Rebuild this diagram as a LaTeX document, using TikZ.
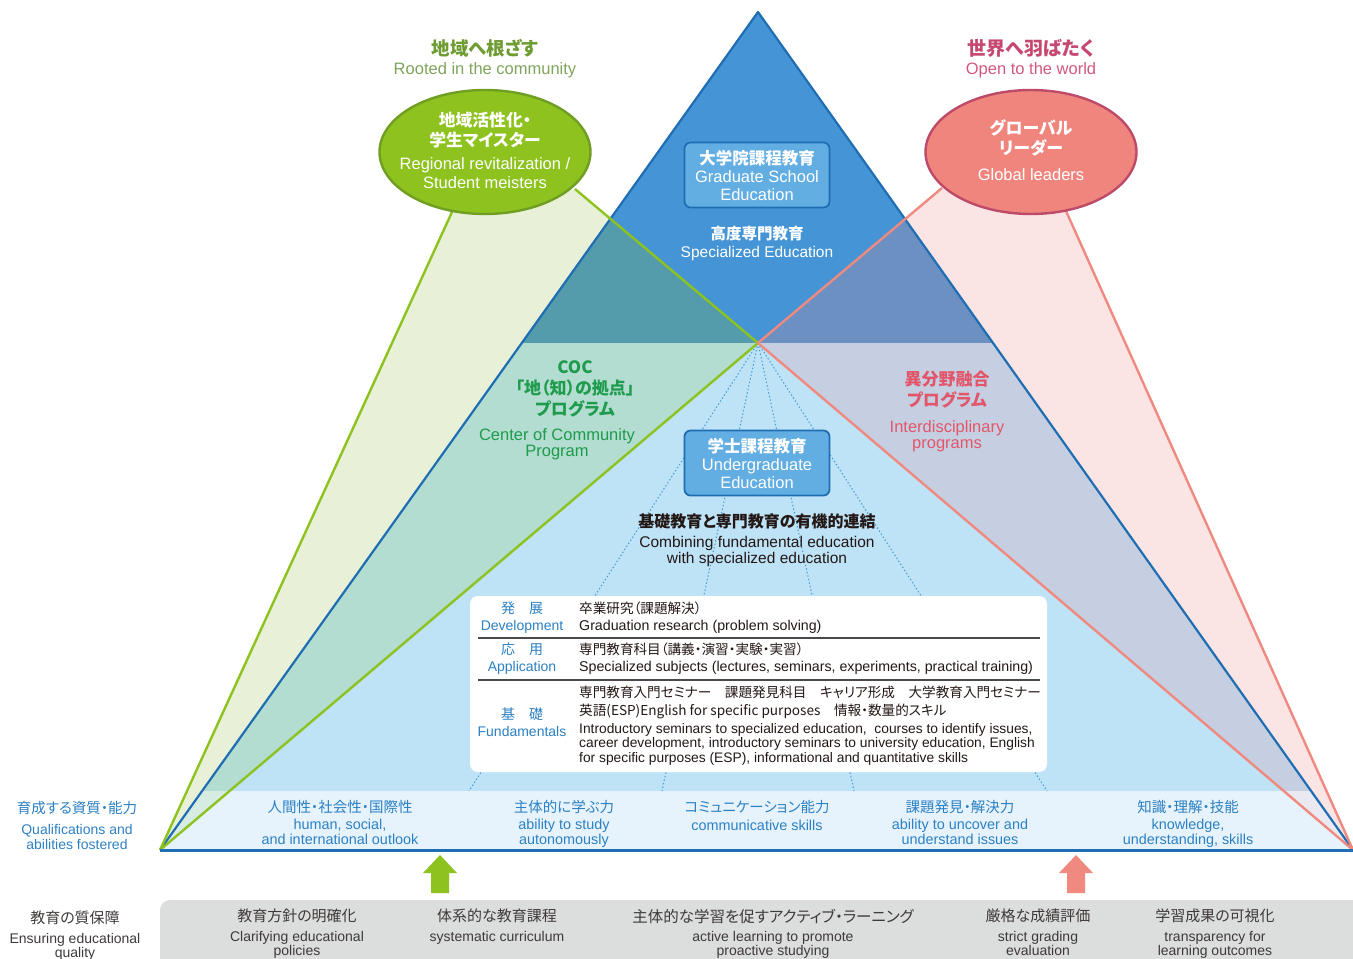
\documentclass[tikz,border=0pt]{standalone}
\usepackage{fontspec}
\setmainfont{Liberation Sans}
\newfontfamily\jp[RawFeature=+palt]{Noto Sans CJK JP}
\usetikzlibrary{shapes.geometric}

\definecolor{topBlue}{HTML}{4595D6}
\definecolor{edgeBlue}{HTML}{1F6DB3}
\definecolor{lowBlue}{HTML}{BEE2F6}
\definecolor{bandBlue}{HTML}{E6F3FC}
\definecolor{grnFill}{HTML}{E8F1D7}
\definecolor{grnLine}{HTML}{8DC21F}
\definecolor{grnBord}{HTML}{6F9E22}
\definecolor{grnTeal}{HTML}{549CAC}
\definecolor{grnMint}{HTML}{B2DDD0}
\definecolor{grnPale}{HTML}{D6ECE3}
\definecolor{pnkFill}{HTML}{FBE5E4}
\definecolor{pnkLine}{HTML}{F08A80}
\definecolor{pnkEll}{HTML}{EF857D}
\definecolor{pnkBord}{HTML}{BE4A6A}
\definecolor{pnkSlate}{HTML}{6B90C1}
\definecolor{pnkLav}{HTML}{C6CFE1}
\definecolor{pnkPale}{HTML}{EAE9F1}
\definecolor{boxBlue}{HTML}{62AEE3}
\definecolor{dotBlue}{HTML}{3E9BDA}
\definecolor{txtBlue}{HTML}{2C80C4}
\definecolor{cocGreen}{HTML}{1E9B4C}
\definecolor{ifRed}{HTML}{E2566B}
\definecolor{rootGrn}{HTML}{6E9B32}
\definecolor{rootGrnLt}{HTML}{7FA45A}
\definecolor{rasp}{HTML}{C64870}
\definecolor{raspLt}{HTML}{D2587D}
\definecolor{qaGray}{HTML}{DCDDDD}
\definecolor{txtDark}{HTML}{231815}
\definecolor{txtGray}{HTML}{3E3A39}
\definecolor{ruleGray}{HTML}{4A4A4A}

\newcommand\fz[2]{\fontsize{#1}{#2}\selectfont}

\tikzset{uparrow/.pic={\fill (0,0) -- (17,18) -- (9,18) -- (9,38) -- (-9,38) -- (-9,18) -- (-17,18) -- cycle;}}

\begin{document}
\begin{tikzpicture}[x=1pt,y=-1pt,
    txt/.style={inner sep=0pt,align=center},
    edubox/.style={draw=edgeBlue,line width=1.8pt,fill=boxBlue,rounded corners=6pt,minimum width=145pt,minimum height=65pt,inner sep=0pt},
    oval/.style={ellipse,line width=2.4pt,minimum width=211pt,minimum height=124pt,inner sep=0pt},
    fan/.style={line width=2.4pt},
    dotray/.style={dotBlue,line width=1pt,dash pattern=on 1.4pt off 2.2pt},
    skill/.style={txt,text=txtBlue},
    qa/.style={txt,text=txtGray},
    rowhead/.style={txt,text=txtBlue,font=\fz{14}{17}},
    rowbody/.style={inner sep=0pt,align=left,anchor=west,text=txtDark}]
\useasboundingbox (0,0) rectangle (1353,959);
\clip (0,0) rectangle (1353,959);

% corners of the triangle and of the two fans
\coordinate (apex) at (758,12);
\coordinate (bl) at (160,850);
\coordinate (br) at (1353,850);
\coordinate (mid) at (758,343);
\coordinate (ml) at (522,343);
\coordinate (mr) at (993,343);
\coordinate (bandl) at (203,791);
\coordinate (bandr) at (1310,791);
\coordinate (gl) at (452,212);
\coordinate (gr) at (575,189);
\coordinate (pl) at (942,188);
\coordinate (pr) at (1066,211);
\coordinate (d1) at (469,791);
\coordinate (d2) at (662,791);
\coordinate (d3) at (854,791);
\coordinate (d4) at (1047,791);

% pale fans
\fill[grnFill] (bl) -- (gl) -- (gr) -- (mid) -- cycle;
\fill[pnkFill] (br) -- (pr) -- (pl) -- (mid) -- cycle;

% triangle body
\fill[lowBlue] (apex) -- (bl) -- (br) -- cycle;
\fill[bandBlue] (bandl) -- (bl) -- (br) -- (bandr) -- cycle;
\fill[topBlue] (apex) -- (ml) -- (mr) -- cycle;

% where the fans cross the triangle
\begin{scope}
  \clip (bl) -- (gl) -- (gr) -- (mid) -- cycle;
  \fill[grnTeal] (apex) -- (ml) -- (mr) -- cycle;
  \fill[grnMint] (ml) -- (bandl) -- (bandr) -- (mr) -- cycle;
  \fill[grnPale] (bandl) -- (bl) -- (br) -- (bandr) -- cycle;
\end{scope}
\begin{scope}
  \clip (br) -- (pr) -- (pl) -- (mid) -- cycle;
  \fill[pnkSlate] (apex) -- (ml) -- (mr) -- cycle;
  \fill[pnkLav] (ml) -- (bandl) -- (bandr) -- (mr) -- cycle;
  \fill[pnkPale] (bandl) -- (bl) -- (br) -- (bandr) -- cycle;
\end{scope}

% dotted rays
\draw[dotray] (mid) -- (d1);
\draw[dotray] (mid) -- (d2);
\draw[dotray] (mid) -- (d3);
\draw[dotray] (mid) -- (d4);

% curriculum table
\node[fill=white,rounded corners=8pt,minimum width=577pt,minimum height=176pt,inner sep=0pt] (tbl) at (758.5,684) {};
\draw[ruleGray,line width=1.2pt] (478,638) -- (1040,638);
\draw[ruleGray,line width=1.2pt] (478,680) -- (1040,680);

% outlines
\draw[edgeBlue,line width=2.2pt,line join=round] (bl) -- (apex) -- (br);
\draw[fan,grnLine] (bl) -- (gl);
\draw[fan,grnLine,line join=round] (gr) -- (mid) -- (bl);
\draw[fan,pnkLine] (br) -- (pr);
\draw[fan,pnkLine,line join=round] (pl) -- (mid) -- (br);
\draw[edgeBlue,line width=3pt] (bl) -- (br);

% ovals and boxes
\node[oval,fill=grnLine,draw=grnBord] (regOval) at (485,152) {};
\node[oval,fill=pnkEll,draw=pnkBord] (globOval) at (1031,152) {};
\node[edubox] (gradBox) at (757,175) {};
\node[edubox] (ugBox) at (757,463) {};

% headings
\node[txt,text=rootGrn,font=\jp\bfseries\fz{18.5}{20}] (rootJp) at (485,48) {地域へ根ざす};
\node[txt,text=rootGrnLt,font=\fz{16.5}{19}] (rootEn) at (485,70) {Rooted in the community};
\node[txt,text=rasp,font=\jp\bfseries\fz{19}{20}] (worldJp) at (1031,48) {世界へ羽ばたく};
\node[txt,text=raspLt,font=\fz{16.5}{19}] (worldEn) at (1031,70) {Open to the world};

\node[txt,text=white,font=\jp\bfseries\fz{16.8}{20}] (regJp) at (485,130) {地域活性化・\\学生マイスター};
\node[txt,text=white,font=\fz{16.5}{19}] (regEn) at (485,173.5) {Regional revitalization /\\Student meisters};
\node[txt,text=white,font=\jp\bfseries\fz{17}{20}] (globJp) at (1031,138) {グローバル\\リーダー};
\node[txt,text=white,font=\fz{16.5}{19}] (globEn) at (1031,175) {Global leaders};

\node[txt,text=white,font=\jp\bfseries\fz{16.5}{20}] (gradJp) at (757,158) {大学院課程教育};
\node[txt,text=white,font=\fz{16.5}{18}] (gradEn) at (757,185.5) {Graduate School\\Education};
\node[txt,text=white,font=\jp\bfseries\fz{15.5}{19}] (specJp) at (757,234) {高度専門教育};
\node[txt,text=white,font=\fz{15.5}{19}] (specEn) at (757,253) {Specialized Education};

\node[txt,text=cocGreen,font=\jp\bfseries\fz{17}{21}] (cocJp) at (575,389) {COC\\「地（知）の拠点」\\プログラム};
\node[txt,text=cocGreen,font=\fz{16.5}{16}] (cocEn) at (557,444) {Center of Community\\Program};
\node[txt,text=ifRed,font=\jp\bfseries\fz{17}{21}] (ifJp) at (947,389.5) {異分野融合\\プログラム};
\node[txt,text=ifRed,font=\fz{16.5}{16}] (ifEn) at (947,436) {Interdisciplinary\\programs};

\node[txt,text=white,font=\jp\bfseries\fz{16.5}{20}] (ugJp) at (757,446) {学士課程教育};
\node[txt,text=white,font=\fz{16.5}{18}] (ugEn) at (757,474) {Undergraduate\\Education};
\node[txt,text=txtDark,font=\jp\bfseries\fz{16}{19}] (linkJp) at (757,521) {基礎教育と専門教育の有機的連結};
\node[txt,text=txtDark,font=\fz{15.5}{16}] (linkEn) at (757,551) {Combining fundamental education\\with specialized education};

% table rows
\node[rowhead] (devHd) at (522,617.5) {{\jp\fz{14}{17}発　展}\\Development};
\node[rowbody,font=\fz{14.2}{17}] (devTx) at (579,617.5) {{\jp\fz{13.6}{17}卒業研究（課題解決）}\\Graduation research (problem solving)};
\node[rowhead] (apHd) at (522,658.5) {{\jp\fz{14}{17}応　用}\\Application};
\node[rowbody,font=\fz{14.2}{17}] (apTx) at (579,658.5) {{\jp\fz{13.6}{17}専門教育科目（講義・演習・実験・実習）}\\Specialized subjects (lectures, seminars, experiments, practical training)};
\node[rowhead] (fdHd) at (522,722) {{\jp\fz{14}{17}基　礎}\\Fundamentals};
\node[rowbody,font=\jp\fz{13.6}{18}] (fdJp) at (579,702) {専門教育入門セミナー　課題発見科目　キャリア形成　大学教育入門セミナー\\英語(ESP)English for specific purposes　情報・数量的スキル};
\node[rowbody,font=\fz{13.8}{14.5}] (fdEn) at (579,744) {Introductory seminars to specialized education,~ courses to identify issues,\\career development, introductory seminars to university education, English\\for specific purposes (ESP), informational and quantitative skills};

% qualities fostered
\node[skill,font=\jp\fz{14.5}{16}] (qualJp) at (77,808) {育成する資質・能力};
\node[skill,font=\fz{14}{14.5}] (qualEn) at (77,837) {Qualifications and\\abilities fostered};
\node[skill,font=\jp\fz{14.5}{16}] (sk1Jp) at (340,807) {人間性・社会性・国際性};
\node[skill,font=\fz{14.4}{15}] (sk1En) at (340,831.5) {human, social,\\and international outlook};
\node[skill,font=\jp\fz{14.5}{16}] (sk2Jp) at (564,807) {主体的に学ぶ力};
\node[skill,font=\fz{14.4}{15}] (sk2En) at (564,833.5) {ability to study\\autonomously};
\node[skill,font=\jp\fz{14.5}{16}] (sk3Jp) at (757,807) {コミュニケーション能力};
\node[skill,font=\fz{14.4}{15}] (sk3En) at (757,825) {communicative skills};
\node[skill,font=\jp\fz{14.5}{16}] (sk4Jp) at (960,807) {課題発見・解決力};
\node[skill,font=\fz{14.4}{15}] (sk4En) at (960,831.5) {ability to uncover and\\understand issues};
\node[skill,font=\jp\fz{14.5}{16}] (sk5Jp) at (1188,807) {知識・理解・技能};
\node[skill,font=\fz{14.4}{15}] (sk5En) at (1188,833.5) {knowledge,\\understanding, skills};

% quality assurance band
\fill[qaGray,rounded corners=10pt] (160,900) rectangle (1380,990);
\pic[fill=grnLine] (upG) at (440,855) {uparrow};
\pic[fill=pnkLine] (upP) at (1076,855) {uparrow};

\node[qa,font=\jp\fz{15}{16}] (qaJp) at (75,918) {教育の質保障};
\node[qa,font=\fz{14}{14}] (qaEn) at (75,947) {Ensuring educational\\quality};
\node[qa,font=\jp\fz{15}{16}] (q1Jp) at (297,916) {教育方針の明確化};
\node[qa,font=\fz{14}{14}] (q1En) at (297,945) {Clarifying educational\\policies};
\node[qa,font=\jp\fz{15}{16}] (q2Jp) at (497,916) {体系的な教育課程};
\node[qa,font=\fz{14}{14}] (q2En) at (497,937.5) {systematic curriculum};
\node[qa,font=\jp\fz{15.5}{16}] (q3Jp) at (773,916) {主体的な学習を促すアクティブ・ラーニング};
\node[qa,font=\fz{14}{14}] (q3En) at (773,945) {active learning to promote\\proactive studying};
\node[qa,font=\jp\fz{15}{16}] (q4Jp) at (1038,916) {厳格な成績評価};
\node[qa,font=\fz{14}{14}] (q4En) at (1038,943) {strict grading\\evaluation};
\node[qa,font=\jp\fz{15}{16}] (q5Jp) at (1215,916) {学習成果の可視化};
\node[qa,font=\fz{14}{14}] (q5En) at (1215,945) {transparency for\\learning outcomes};
\end{tikzpicture}
\end{document}
